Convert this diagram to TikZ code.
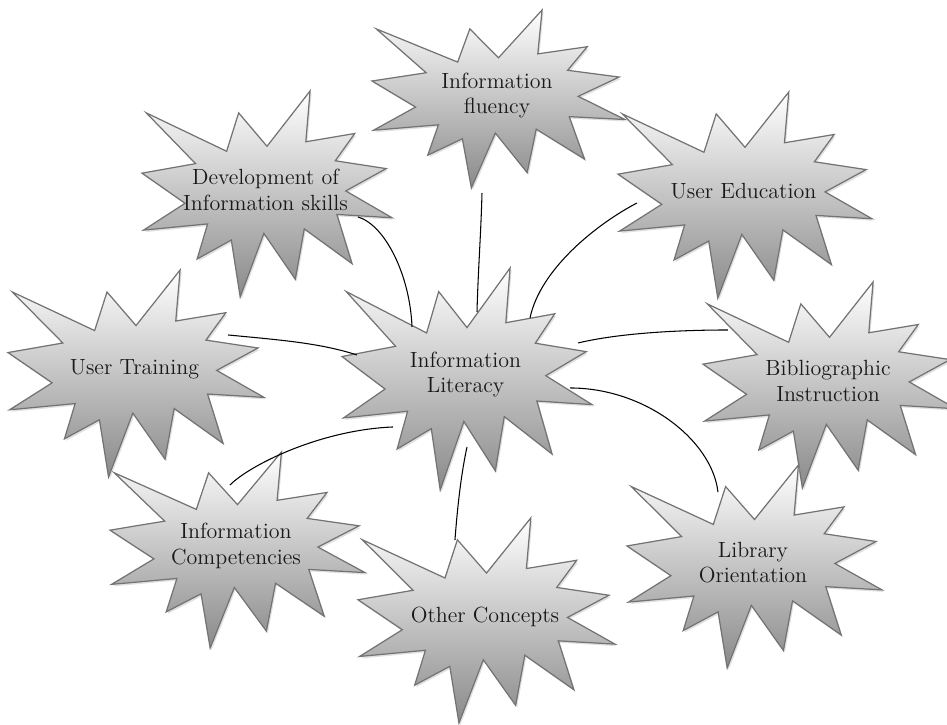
\documentclass[tikz,border=0pt]{standalone}
\usepackage{tikz}
\usetikzlibrary{calc}
\def\burstpath#1{\path[#1] (0.5,0.2685) -- (0.6723,0) -- (0.6553,0.2465) -- (0.8509,0.2063) -- (0.7732,0.3387) -- (0.9767,0.3767) -- (0.8151,0.4850) -- (1,0.6153) -- (0.7795,0.5992) -- (0.8400,0.8377) -- (0.6491,0.6693) -- (0.6133,0.9138) -- (0.4876,0.6914) -- (0.3928,1) -- (0.3572,0.7235) -- (0.2205,0.8156) -- (0.2624,0.6452) -- (0.00625,0.6753) -- (0.1723,0.5451) -- (0,0.3988) -- (0.2142,0.3526) -- (0.0171,0.1063) -- (0.3385,0.2926) -- (0.3867,0.1063) -- cycle;}
\def\explosion(#1,#2)(#3,#4)#5#6{%
  \burstpath{burstshadow, shift={(#1+1.5,#2+2)}, xscale=#3, yscale=#4}
  \burstpath{burstfill, shift={(#1,#2)}, xscale=#3, yscale=#4}
  \node[bursttext] (#5) at ({#1+0.494*#3},{#2+0.48*#4}) {#6};}
\tikzset{
  burstfill/.style={draw=black!55, line width=0.7pt, line join=miter,
    top color=white, middle color=black!9, bottom color=black!46},
  burstshadow/.style={fill=black!30, opacity=0.4},
  bursttext/.style={align=center, inner sep=0pt, text=black!90,
    font=\fontsize{12.5}{14.5}\selectfont},
  link/.style={draw=black, line width=0.6pt}
}

\begin{document}
\begin{tikzpicture}[x=0.2mm, y=-0.2mm]
		%%%%% START %%%%%
		\useasboundingbox (0,0) rectangle (947,724);
		
		\explosion(142,91)(250,206){dev}{Development of\\Information skills}
		\explosion(372,10)(253,178){flu}{Information\\fluency}
		\explosion(618,92)(254,206){edu}{User Education}
		\explosion(8,270)(256,207){trn}{User Training}
		\explosion(342,268)(250,222){lit}{Information\\Literacy}
		\explosion(703,282)(253,206){bib}{Bibliographic\\Instruction}
		\explosion(110,452)(255,196){cmp}{Information\\Competencies}
		\explosion(358,518)(257,205){oth}{Other Concepts}
		\explosion(627,465)(255,203){lib}{Library\\Orientation}
		
		% ends of the links
		\coordinate (devL) at ($(dev)+(92.5,27.1)$);
		\coordinate (litD) at ($(lit)+(-53.5,-47.6)$);
		\coordinate (fluB) at ($(flu)+(-15,97.6)$);
		\coordinate (litF) at ($(lit)+(11.5,-62.6)$);
		\coordinate (eduL) at ($(edu)+(-106.5,12.1)$);
		\coordinate (litE) at ($(lit)+(64.5,-56.6)$);
		\coordinate (bibL) at ($(bib)+(-100,-50.9)$);
		\coordinate (litB) at ($(lit)+(112.5,-31.6)$);
		\coordinate (libT) at ($(lib)+(-35,-70.4)$);
		\coordinate (litL) at ($(lit)+(104.5,13.4)$);
		\coordinate (othT) at ($(oth)+(-30,-76.4)$);
		\coordinate (litO) at ($(lit)+(1.5,72.4)$);
		\coordinate (cmpT) at ($(cmp)+(-6,-61.1)$);
		\coordinate (litC) at ($(lit)+(-72.5,52.4)$);
		\coordinate (trnR) at ($(trn)+(93.5,-34.4)$);
		\coordinate (litT) at ($(lit)+(-108.5,-19.6)$);
		
		\draw[link] (devL) .. controls ($(devL)+(27,8)$) and ($(litD)+(-2,-52)$) .. (litD);
		\draw[link] (fluB) .. controls ($(fluB)+(-1,40)$) and ($(litF)+(1,-40)$) .. (litF);
		\draw[link] (eduL) .. controls ($(eduL)+(-42,22)$) and ($(litE)+(10,-48)$) .. (litE);
		\draw[link] (bibL) .. controls ($(bibL)+(-48,0)$) and ($(litB)+(42,-10)$) .. (litB);
		\draw[link] (libT) .. controls ($(libT)+(-6,-52)$) and ($(litL)+(75,0)$) .. (litL);
		\draw[link] (othT) .. controls ($(othT)+(3,-40)$) and ($(litO)+(-5,23)$) .. (litO);
		\draw[link] (cmpT) .. controls ($(cmpT)+(20,-20)$) and ($(litC)+(-73,3)$) .. (litC);
		\draw[link] (trnR) .. controls ($(trnR)+(52,5)$) and ($(litT)+(-37,-12)$) .. (litT);
		
		%%%%% END %%%%%
\end{tikzpicture}
\end{document}
